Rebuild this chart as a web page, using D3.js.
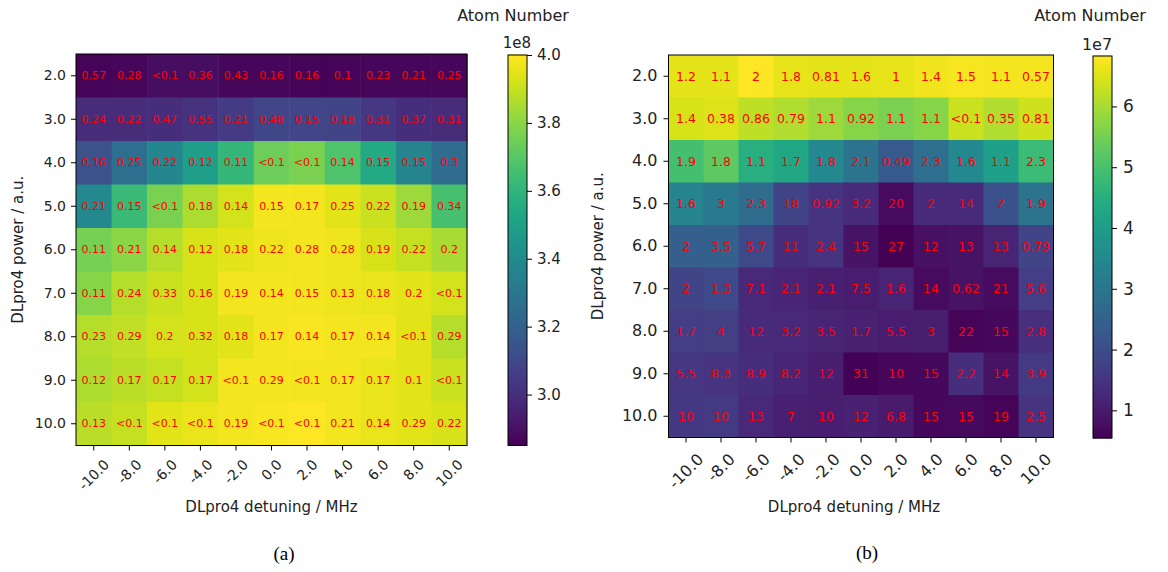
<!DOCTYPE html>
<html>
<head>
<meta charset="utf-8">
<script src="https://cdn.jsdelivr.net/npm/d3@7"></script>
<style>
  body { margin: 0; background: #fff; }
  svg { display: block; }
  text { font-family: "DejaVu Sans", sans-serif; fill: #222; }
</style>
</head>
<body>
<svg id="chart" width="1168" height="572"></svg>
<script>
// ---------------- data ----------------
const detunings = [-10, -8, -6, -4, -2, 0, 2, 4, 6, 8, 10];
const detuningLabels = ["-10.0","-8.0","-6.0","-4.0","-2.0","0.0","2.0","4.0","6.0","8.0","10.0"];
const powers = [2, 3, 4, 5, 6, 7, 8, 9, 10];
const powerLabels = ["2.0","3.0","4.0","5.0","6.0","7.0","8.0","9.0","10.0"];

// (a) atom number, units of 1e8 (estimated from colour)
const atomsA = [
  [2.86, 2.87, 2.89, 2.89, 2.87, 2.87, 2.86, 2.86, 2.87, 2.87, 2.87],
  [2.99, 2.99, 3.00, 3.02, 3.05, 3.09, 3.09, 3.08, 3.03, 3.00, 2.99],
  [3.14, 3.26, 3.38, 3.49, 3.61, 3.74, 3.77, 3.68, 3.55, 3.37, 3.25],
  [3.39, 3.63, 3.77, 3.86, 3.92, 3.98, 3.98, 3.95, 3.91, 3.83, 3.66],
  [3.76, 3.80, 3.87, 3.93, 3.95, 3.97, 3.98, 3.97, 3.93, 3.90, 3.85],
  [3.79, 3.87, 3.91, 3.93, 3.98, 3.98, 3.98, 3.97, 3.96, 3.95, 3.92],
  [3.87, 3.89, 3.92, 3.93, 3.95, 3.98, 3.99, 3.98, 3.98, 3.95, 3.87],
  [3.86, 3.88, 3.90, 3.92, 3.98, 3.98, 3.98, 3.98, 3.96, 3.95, 3.91],
  [3.88, 3.90, 3.95, 3.96, 3.98, 3.99, 4.00, 3.98, 3.96, 3.95, 3.93]
];
const labelsA = [
  ["0.57","0.28","<0.1","0.36","0.43","0.16","0.16","0.1","0.23","0.21","0.25"],
  ["0.24","0.22","0.47","0.55","0.21","0.48","0.15","0.18","0.31","0.37","0.31"],
  ["0.16","0.25","0.22","0.12","0.11","<0.1","<0.1","0.14","0.15","0.15","0.3"],
  ["0.21","0.15","<0.1","0.18","0.14","0.15","0.17","0.25","0.22","0.19","0.34"],
  ["0.11","0.21","0.14","0.12","0.18","0.22","0.28","0.28","0.19","0.22","0.2"],
  ["0.11","0.24","0.33","0.16","0.19","0.14","0.15","0.13","0.18","0.2","<0.1"],
  ["0.23","0.29","0.2","0.32","0.18","0.17","0.14","0.17","0.14","<0.1","0.29"],
  ["0.12","0.17","0.17","0.17","<0.1","0.29","<0.1","0.17","0.17","0.1","<0.1"],
  ["0.13","<0.1","<0.1","<0.1","0.19","<0.1","<0.1","0.21","0.14","0.29","0.22"]
];
const colorTicksA = [3.0, 3.2, 3.4, 3.6, 3.8, 4.0];
const colorTickLabelsA = ["3.0","3.2","3.4","3.6","3.8","4.0"];

// (b) atom number, units of 1e7 (estimated from colour)
const atomsB = [
  [6.58, 6.58, 6.83, 6.60, 6.58, 6.57, 6.60, 6.70, 6.75, 6.72, 6.72],
  [6.45, 6.50, 6.20, 6.08, 5.90, 5.70, 5.57, 5.70, 6.33, 6.08, 6.35],
  [4.95, 5.26, 4.50, 4.30, 3.50, 2.93, 2.30, 2.80, 3.50, 4.10, 4.82],
  [3.37, 3.12, 2.75, 1.80, 1.50, 1.30, 0.73, 1.30, 1.30, 2.10, 2.93],
  [2.43, 2.45, 1.93, 1.36, 1.50, 0.86, 0.55, 0.80, 0.86, 1.17, 1.80],
  [1.80, 1.93, 1.24, 1.20, 1.10, 1.05, 1.17, 0.73, 0.86, 0.73, 1.68],
  [1.68, 1.72, 1.30, 1.27, 1.17, 1.12, 1.05, 1.08, 0.60, 0.67, 1.38],
  [1.55, 1.50, 1.37, 1.20, 1.07, 0.58, 0.65, 0.67, 1.36, 0.86, 1.60],
  [1.57, 1.60, 1.27, 1.10, 1.07, 1.12, 1.00, 0.67, 0.70, 0.60, 1.50]
];
const labelsB = [
  ["1.2","1.1","2","1.8","0.81","1.6","1","1.4","1.5","1.1","0.57"],
  ["1.4","0.38","0.86","0.79","1.1","0.92","1.1","1.1","<0.1","0.35","0.81"],
  ["1.9","1.8","1.1","1.7","1.8","2.1","0.49","2.3","1.6","1.1","2.3"],
  ["1.6","3","2.3","18","0.92","3.2","20","2","14","2","1.9"],
  ["2","3.5","5.7","11","2.4","15","27","12","13","13","0.79"],
  ["2","1.3","7.1","2.1","2.1","7.5","1.6","14","0.62","21","5.6"],
  ["1.7","4","12","3.2","3.5","1.7","5.5","3","22","15","2.8"],
  ["5.5","8.3","8.9","8.2","12","31","10","15","2.2","14","3.9"],
  ["10","10","13","7","10","12","6.8","15","15","19","2.5"]
];
const colorTicksB = [1, 2, 3, 4, 5, 6];
const colorTickLabelsB = ["1","2","3","4","5","6"];

// ---------------- drawing ----------------
const svg = d3.select("#chart");

function heatmap(cfg) {
  const g = svg.append("g");
  const x = d3.scaleBand().domain(detunings).range([cfg.x0, cfg.x1]).padding(0);
  const y = d3.scaleBand().domain(powers).range([cfg.y0, cfg.y1]).padding(0);
  const color = d3.scaleSequential(d3.interpolateViridis).domain(cfg.cdomain);

  const cells = [];
  cfg.values.forEach((row, i) => row.forEach((v, j) =>
    cells.push({p: powers[i], d: detunings[j], v, lab: cfg.labels[i][j]})));

  g.selectAll("rect.cell").data(cells).join("rect")
    .attr("x", d => x(d.d)).attr("y", d => y(d.p))
    .attr("width", x.bandwidth() + 0.5).attr("height", y.bandwidth() + 0.5)
    .attr("fill", d => color(d.v));

  g.selectAll("text.ann").data(cells).join("text")
    .attr("x", d => x(d.d) + x.bandwidth() / 2)
    .attr("y", d => y(d.p) + y.bandwidth() / 2)
    .attr("text-anchor", "middle").attr("dominant-baseline", "central")
    .style("font-size", cfg.annSize + "px").style("fill", "#ff0000")
    .text(d => d.lab);

  // frame
  g.append("rect").attr("x", cfg.x0).attr("y", cfg.y0)
    .attr("width", cfg.x1 - cfg.x0).attr("height", cfg.y1 - cfg.y0)
    .attr("fill", "none").attr("stroke", "#000").attr("stroke-width", 1);

  // y axis
  const yAxis = d3.axisLeft(y).tickSize(cfg.tick).tickPadding(cfg.pad)
    .tickFormat((d, i) => powerLabels[i]);
  const ya = g.append("g").attr("transform", `translate(${cfg.x0},0)`).call(yAxis);
  ya.select(".domain").remove();
  ya.selectAll("text").style("font-size", cfg.tickSize + "px")
    .style("font-family", '"DejaVu Sans", sans-serif').attr("fill", "#222");
  ya.selectAll("line").attr("stroke", "#000");

  // x axis
  const xAxis = d3.axisBottom(x).tickSize(cfg.tick).tickFormat((d, i) => detuningLabels[i]);
  const xa = g.append("g").attr("transform", `translate(0,${cfg.y1})`).call(xAxis);
  xa.select(".domain").remove();
  xa.selectAll("line").attr("stroke", "#000");
  xa.selectAll("text").style("font-size", cfg.tickSize + "px")
    .style("font-family", '"DejaVu Sans", sans-serif').attr("fill", "#222")
    .attr("dy", null).attr("y", 0)
    .attr("text-anchor", "middle").attr("dominant-baseline", "central")
    .each(function () {
      const t = d3.select(this);
      const L = this.getComputedTextLength();
      const H = cfg.tickSize * 0.8;
      const cy = (cfg.xLabTop - cfg.y1) + (L + H) * 0.3536;
      t.attr("transform", `translate(0,${cy}) rotate(-45)`);
    });

  // axis labels
  svg.append("text").attr("x", cfg.xLabelX).attr("y", cfg.xLabelY)
    .attr("text-anchor", "middle").attr("dominant-baseline", "central")
    .style("font-size", cfg.labelSize + "px").text("DLpro4 detuning / MHz");
  svg.append("text")
    .attr("transform", `translate(${cfg.yLabelX},${(cfg.y0 + cfg.y1) / 2}) rotate(-90)`)
    .attr("text-anchor", "middle").attr("dominant-baseline", "central")
    .style("font-size", cfg.labelSize + "px").text("DLpro4 power / a.u.");

  // colorbar
  const cb = svg.append("g");
  const cy = d3.scaleLinear().domain(cfg.cdomain).range([cfg.cbY1, cfg.cbY0]);
  const steps = d3.range(0, 200).map(i => cfg.cdomain[0] + (cfg.cdomain[1] - cfg.cdomain[0]) * i / 200);
  const stepH = (cfg.cbY1 - cfg.cbY0) / 200;
  cb.selectAll("rect.s").data(steps).join("rect")
    .attr("x", cfg.cbX0).attr("width", cfg.cbX1 - cfg.cbX0)
    .attr("y", d => cy(d) - stepH - 0.5).attr("height", stepH + 1)
    .attr("fill", d => color(d + (cfg.cdomain[1] - cfg.cdomain[0]) / 400));
  cb.append("rect").attr("x", cfg.cbX0).attr("y", cfg.cbY0)
    .attr("width", cfg.cbX1 - cfg.cbX0).attr("height", cfg.cbY1 - cfg.cbY0)
    .attr("fill", "none").attr("stroke", "#000").attr("stroke-width", 1);
  const cAxis = d3.axisRight(cy).tickValues(cfg.cticks).tickSize(cfg.tick).tickPadding(cfg.cbPad)
    .tickFormat((d, i) => cfg.ctickLabels[i]);
  const ca = cb.append("g").attr("transform", `translate(${cfg.cbX1},0)`).call(cAxis);
  ca.select(".domain").remove();
  ca.selectAll("line").attr("stroke", "#000");
  ca.selectAll("text").style("font-size", cfg.cbTickSize + "px")
    .style("font-family", '"DejaVu Sans", sans-serif').attr("fill", "#222");

  svg.append("text").attr("x", cfg.offX).attr("y", cfg.offY)
    .attr("text-anchor", "middle").style("font-size", cfg.offSize + "px").text(cfg.offText);
  svg.append("text").attr("x", cfg.titleX).attr("y", 21)
    .attr("text-anchor", "middle").style("font-size", "16px").text("Atom Number");

  svg.append("text").attr("x", cfg.capX).attr("y", cfg.capY)
    .attr("text-anchor", "middle").attr("dominant-baseline", "central")
    .style("font-family", '"Liberation Serif", "Times New Roman", serif')
    .style("font-size", "19px").style("fill", "#000").text(cfg.caption);
}

heatmap({
  x0: 76, x1: 467, y0: 54, y1: 445.5,
  values: atomsA, labels: labelsA, cdomain: [2.85, 4.0],
  annSize: 11, tick: 5, pad: 5, tickSize: 14, labelSize: 15,
  xLabTop: 458, xLabelX: 271.5, xLabelY: 507, yLabelX: 18,
  cbX0: 508, cbX1: 527, cbY0: 55, cbY1: 445.5, cbPad: 5, cbTickSize: 15,
  cticks: colorTicksA, ctickLabels: colorTickLabelsA,
  offX: 517, offY: 48, offSize: 15, offText: "1e8",
  titleX: 513, caption: "(a)", capX: 284, capY: 553
});

heatmap({
  x0: 668.5, x1: 1053.5, y0: 55, y1: 437.5,
  values: atomsB, labels: labelsB, cdomain: [0.545, 6.83],
  annSize: 12.5, tick: 5, pad: 6, tickSize: 16, labelSize: 15,
  xLabTop: 452, xLabelX: 854, xLabelY: 507, yLabelX: 598,
  cbX0: 1093, cbX1: 1112, cbY0: 56, cbY1: 438, cbPad: 6, cbTickSize: 17,
  cticks: colorTicksB, ctickLabels: colorTickLabelsB,
  offX: 1097, offY: 50, offSize: 16, offText: "1e7",
  titleX: 1090, caption: "(b)", capX: 867, capY: 552
});
</script>
</body>
</html>
